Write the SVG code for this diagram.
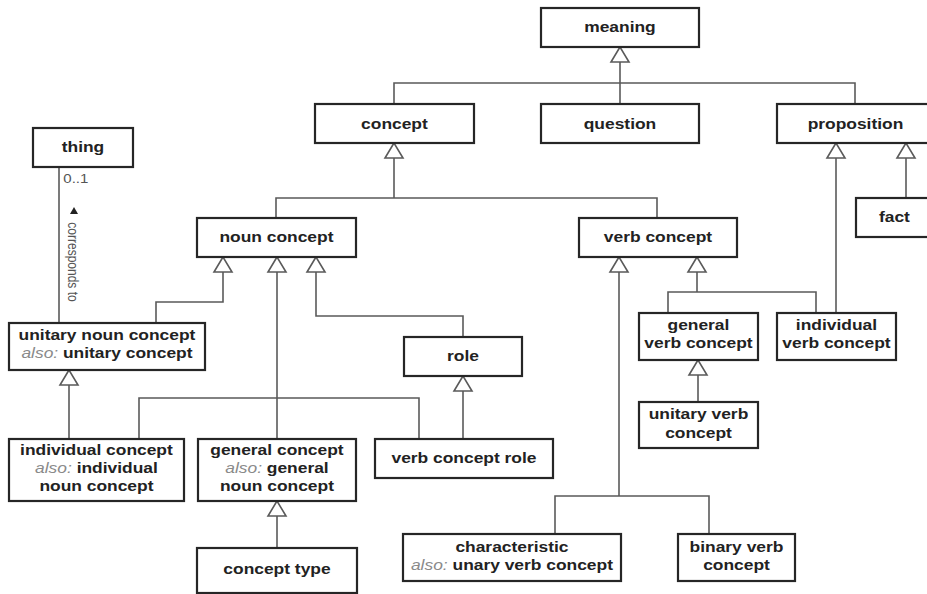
<svg xmlns="http://www.w3.org/2000/svg" width="927" height="594" viewBox="0 0 927 594">
<style>
  .box { fill: #ffffff; stroke: #262626; stroke-width: 2.2; }
  .t { font-family: "Liberation Sans", Arial, Helvetica, sans-serif; font-weight: bold; font-size: 15px; fill: #222222; text-anchor: middle; transform-box: fill-box; transform-origin: center; transform: scaleX(1.16); }
  .also { font-style: italic; font-weight: normal; fill: #8a8a8a; }
  .conn path { fill: none; stroke: #5a5a5a; stroke-width: 1.6; }
  .mult { font-family: "Liberation Sans", Arial, Helvetica, sans-serif; font-size: 13px; fill: #555555; transform-box: fill-box; transform-origin: center; transform: scaleX(1.16); }
  .rot { font-family: "Liberation Sans", Arial, Helvetica, sans-serif; font-size: 12px; fill: #555555; text-anchor: middle; }
</style>
<defs>
  <marker id="gen" markerUnits="userSpaceOnUse" markerWidth="20" markerHeight="22" viewBox="-17 -11 20 22" refX="0" refY="0" orient="auto-start-reverse" style="overflow:visible">
    <path d="M0,0 L-15,-9 L-15,9 Z" fill="#ffffff" stroke="#5a5a5a" stroke-width="1.6" stroke-linejoin="miter"/>
  </marker>
</defs>
<rect width="927" height="594" fill="#ffffff"/>

<g id="connectors" class="conn">
  <path d="M620,47 V104" marker-start="url(#gen)"/>
  <path d="M394,104 V83 H855 V104"/>
  <path d="M394,143 V198" marker-start="url(#gen)"/>
  <path d="M276,218 V198 H657 V218"/>
  <path d="M223,257 V302 H156 V323" marker-start="url(#gen)"/>
  <path d="M277,257 V439" marker-start="url(#gen)"/>
  <path d="M316,257 V316 H463 V337" marker-start="url(#gen)"/>
  <path d="M463,376 V439" marker-start="url(#gen)"/>
  <path d="M69,370 V439" marker-start="url(#gen)"/>
  <path d="M139,439 V398 H419 V439"/>
  <path d="M277,501 V548" marker-start="url(#gen)"/>
  <path d="M619,257 V496" marker-start="url(#gen)"/>
  <path d="M555,534 V496 H709 V534"/>
  <path d="M697,257 V292" marker-start="url(#gen)"/>
  <path d="M668,313 V292 H816 V313"/>
  <path d="M836,143 V313" marker-start="url(#gen)"/>
  <path d="M906,143 V198" marker-start="url(#gen)"/>
  <path d="M698,360 V402" marker-start="url(#gen)"/>
  <path id="corresponds" d="M59,167 V323"/>
</g>

<g id="assoc-labels">
  <text class="mult" x="65" y="183">0..1</text>
  <polygon points="74,207 70,214 78,214" fill="#222222"/>
  <text class="rot" transform="translate(68,262) rotate(90) scale(1,1.16)">corresponds to</text>
</g>

<g id="meaning"><rect class="box" x="541" y="8" width="158" height="39"/><text class="t" x="620" y="32.5">meaning</text></g>
<g id="concept"><rect class="box" x="315" y="104" width="159" height="39"/><text class="t" x="394.5" y="129">concept</text></g>
<g id="question"><rect class="box" x="541" y="104" width="158" height="39"/><text class="t" x="620" y="129">question</text></g>
<g id="proposition"><rect class="box" x="777" y="104" width="158" height="39"/><text class="t" x="855.5" y="129">proposition</text></g>
<g id="thing"><rect class="box" x="33" y="128" width="100" height="39"/><text class="t" x="83" y="152.5">thing</text></g>
<g id="fact"><rect class="box" x="856" y="198" width="78" height="39"/><text class="t" x="894.5" y="222.5">fact</text></g>
<g id="noun-concept"><rect class="box" x="197" y="218" width="159" height="39"/><text class="t" x="276.5" y="242.5">noun concept</text></g>
<g id="verb-concept"><rect class="box" x="579" y="218" width="158" height="39"/><text class="t" x="658" y="242.5">verb concept</text></g>
<g id="unitary-noun-concept"><rect class="box" x="9" y="323" width="196" height="47"/><text class="t" x="107" y="340"><tspan x="107">unitary noun concept</tspan><tspan x="107" dy="18"><tspan class="also">also:</tspan> unitary concept</tspan></text></g>
<g id="role"><rect class="box" x="404" y="337" width="118" height="39"/><text class="t" x="463" y="361.5">role</text></g>
<g id="general-verb-concept"><rect class="box" x="639" y="313" width="119" height="47"/><text class="t" x="698.5" y="330"><tspan x="698.5">general</tspan><tspan x="698.5" dy="18">verb concept</tspan></text></g>
<g id="individual-verb-concept"><rect class="box" x="777" y="313" width="119" height="47"/><text class="t" x="836.5" y="330"><tspan x="836.5">individual</tspan><tspan x="836.5" dy="18">verb concept</tspan></text></g>
<g id="unitary-verb-concept"><rect class="box" x="639" y="402" width="119" height="46"/><text class="t" x="698.5" y="419.5"><tspan x="698.5">unitary verb</tspan><tspan x="698.5" dy="18.5">concept</tspan></text></g>
<g id="individual-concept"><rect class="box" x="9" y="439" width="175" height="62"/><text class="t" x="96.5" y="455"><tspan x="96.5">individual concept</tspan><tspan x="96.5" dy="18"><tspan class="also">also:</tspan> individual</tspan><tspan x="96.5" dy="18">noun concept</tspan></text></g>
<g id="general-concept"><rect class="box" x="198" y="439" width="158" height="62"/><text class="t" x="277" y="455"><tspan x="277">general concept</tspan><tspan x="277" dy="18"><tspan class="also">also:</tspan> general</tspan><tspan x="277" dy="18">noun concept</tspan></text></g>
<g id="verb-concept-role"><rect class="box" x="375" y="439" width="178" height="39"/><text class="t" x="464" y="463.5">verb concept role</text></g>
<g id="characteristic"><rect class="box" x="403" y="534" width="218" height="47"/><text class="t" x="512" y="552"><tspan x="512">characteristic</tspan><tspan x="512" dy="18"><tspan class="also">also:</tspan> unary verb concept</tspan></text></g>
<g id="binary-verb-concept"><rect class="box" x="678" y="534" width="117" height="47"/><text class="t" x="736.5" y="552"><tspan x="736.5">binary verb</tspan><tspan x="736.5" dy="18">concept</tspan></text></g>
<g id="concept-type"><rect class="box" x="197" y="548" width="160" height="45"/><text class="t" x="277" y="574">concept type</text></g>
</svg>
